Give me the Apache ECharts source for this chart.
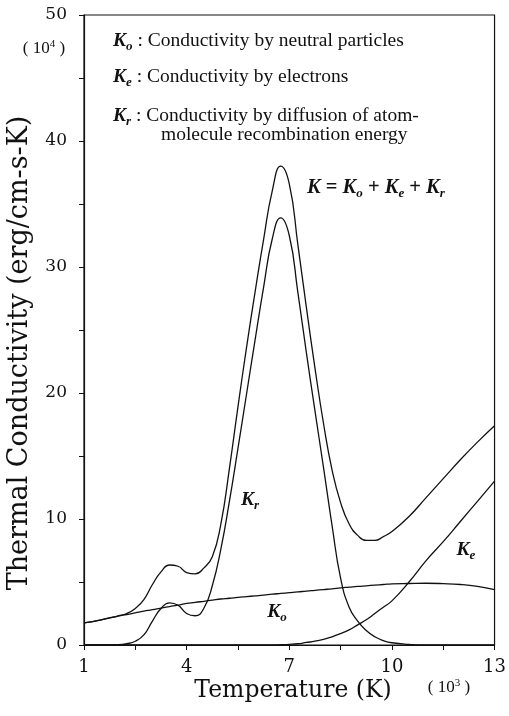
<!DOCTYPE html>
<html>
<head>
<meta charset="utf-8">
<script src="https://cdn.jsdelivr.net/npm/echarts@6/dist/echarts.min.js"></script>
<style>html,body{margin:0;padding:0;background:#fff;}#c{width:509px;height:716px;}</style>
</head>
<body>
<div id="c"></div>
<script>
// Temperature (10^3 K)
const temps = [1,1.5,2,2.25,2.5,2.75,3,3.25,3.5,3.75,4,4.25,4.5,4.75,5,5.25,5.5,5.75,6,6.25,6.5,6.75,7,7.25,7.5,7.75,8,8.25,8.5,8.75,9,9.25,9.5,9.75,10,10.5,11,11.5,12,12.5,13];
// Conductivity by neutral particles (10^4 erg/cm-s-K)
const Ko = [1.75,2.0,2.3,2.42,2.55,2.68,2.8,2.93,3.05,3.17,3.3,3.38,3.47,3.56,3.65,3.71,3.78,3.84,3.9,3.96,4.03,4.09,4.15,4.21,4.28,4.34,4.4,4.46,4.53,4.59,4.65,4.7,4.75,4.8,4.85,4.88,4.9,4.87,4.8,4.65,4.4];
// Conductivity by electrons
const Ke = [0,0,0,0,0,0,0,0,0,0,0,0,0,0,0,0,0,0,0,0,0,0.02,0.05,0.1,0.2,0.3,0.45,0.65,0.9,1.2,1.6,2.0,2.5,3.0,3.5,5.0,6.7,8.2,9.8,11.4,13.0];
// Conductivity by diffusion of recombination energy
const Kr = [0,0,0.02,0.1,0.3,0.8,1.9,2.9,3.35,3.15,2.5,2.32,2.9,4.7,7.6,11.4,15.6,19.9,24.2,28.4,32.2,33.9,32.5,28.0,23.2,18.6,14.1,9.5,5.3,3.0,1.9,1.15,0.65,0.35,0.18,0.05,0,0,0,0,0];
// Total conductivity
const Ktot = [1.75,2.0,2.32,2.5,2.9,3.6,4.8,5.8,6.35,6.25,5.75,5.65,6.1,7.0,9.6,14.0,18.9,23.6,28.0,32.2,36.0,38.0,36.6,31.8,26.8,22.0,17.6,13.9,11.3,9.6,8.7,8.3,8.3,8.6,9.0,10.2,11.7,13.2,14.7,16.1,17.4];

const xTicks = {min:1, max:13, interval:3};
const yTicks = {min:0, max:50, interval:10};

const ink = '#111';
const pairs = arr => temps.map((t,i)=>[t, arr[i]]);
const mkLine = (name, arr) => ({
  name, type:'line', data: pairs(arr), showSymbol:false, smooth:0.5,
  lineStyle:{color:ink, width:1.3}, silent:true, clip:true
});

const FS = 19.5;
const kStyle = {fontFamily:'Liberation Serif', fontSize:FS, fontStyle:'italic', fontWeight:'bold', fill:ink, lineHeight:24};
const subStyle = {fontFamily:'Liberation Serif', fontSize:13, fontStyle:'italic', fontWeight:'bold', fill:ink, lineHeight:13, verticalAlign:'bottom'};
const txtStyle = {fontFamily:'Liberation Serif', fontSize:FS, fill:ink, lineHeight:24};
const fK = {fontFamily:'Liberation Serif', fontSize:20.5, fontStyle:'italic', fontWeight:'bold', fill:ink, lineHeight:24};
const fOp = {fontFamily:'Liberation Serif', fontSize:20.5, fontWeight:'bold', fill:ink, lineHeight:24};
const rich = {K:kStyle, s:subStyle, t:txtStyle, F:fK, o:fOp};

function rtext(x, y, text, align) {
  return {type:'text', x, y, silent:true, style:{text, rich, textAlign:align||'left', textVerticalAlign:'middle'}};
}

const chart = echarts.init(document.getElementById('c'), null, {renderer:'canvas'});
chart.setOption({
  animation:false,
  backgroundColor:'#fff',
  grid:{left:84, right:13, top:15, bottom:71, show:true, borderColor:ink, borderWidth:1.2},
  xAxis:{
    type:'value', min:xTicks.min, max:xTicks.max, interval:xTicks.interval,
    axisLine:{onZero:false, lineStyle:{color:ink, width:1.2}},
    axisTick:{show:true, length:5, lineStyle:{color:ink}},
    minorTick:{show:true, splitNumber:2, length:5, lineStyle:{color:ink}},
    splitLine:{show:false},
    axisLabel:{fontFamily:'DejaVu Serif', fontSize:18, color:ink, margin:13}
  },
  yAxis:{
    type:'value', min:yTicks.min, max:yTicks.max, interval:yTicks.interval,
    axisLine:{onZero:false, lineStyle:{color:ink, width:1.2}},
    axisTick:{show:true, length:5, lineStyle:{color:ink}},
    minorTick:{show:true, splitNumber:2, length:5, lineStyle:{color:ink}},
    splitLine:{show:false},
    axisLabel:{fontFamily:'DejaVu Serif', fontSize:17, color:ink, margin:17}
  },
  series:[mkLine('Ko',Ko), mkLine('Ke',Ke), mkLine('Kr',Kr), mkLine('K',Ktot)],
  graphic:[
    rtext(113, 41, '{K|K}{s|o}{t| : Conductivity by neutral particles}'),
    rtext(113, 77, '{K|K}{s|e}{t| : Conductivity by electrons}'),
    rtext(113, 116, '{K|K}{s|r}{t| : Conductivity by diffusion of atom-}'),
    rtext(161, 135, '{t|molecule recombination energy}'),
    rtext(307, 188, '{F|K}{o| = }{F|K}{s|o}{o| + }{F|K}{s|e}{o| + }{F|K}{s|r}'),
    rtext(250, 500, '{K|K}{s|r}', 'center'),
    rtext(466, 550, '{K|K}{s|e}', 'center'),
    rtext(277, 612, '{K|K}{s|o}', 'center'),
    {type:'text', x:44, y:49, silent:true, style:{text:'{a|( 10}{p|4}{a| )}', textAlign:'center', textVerticalAlign:'middle',
      rich:{a:{fontFamily:'Liberation Serif', fontSize:17, fill:ink, lineHeight:20}, p:{fontFamily:'Liberation Serif', fontSize:11, fill:ink, lineHeight:11, verticalAlign:'top'}}}},
    {type:'text', x:449, y:688, silent:true, style:{text:'{a|( 10}{p|3}{a| )}', textAlign:'center', textVerticalAlign:'middle',
      rich:{a:{fontFamily:'Liberation Serif', fontSize:17, fill:ink, lineHeight:20}, p:{fontFamily:'Liberation Serif', fontSize:11, fill:ink, lineHeight:11, verticalAlign:'top'}}}},
    {type:'text', x:293, y:691, silent:true, style:{text:'Temperature (K)', font:'23.5px "DejaVu Serif"', fill:ink, textAlign:'center', textVerticalAlign:'middle'}},
    {type:'text', x:20, y:353, rotation:Math.PI/2, silent:true, style:{text:'Thermal Conductivity (erg/cm-s-K)', font:'27px "DejaVu Serif"', fill:ink, textAlign:'center', textVerticalAlign:'middle'}}
  ]
});
</script>
</body>
</html>
